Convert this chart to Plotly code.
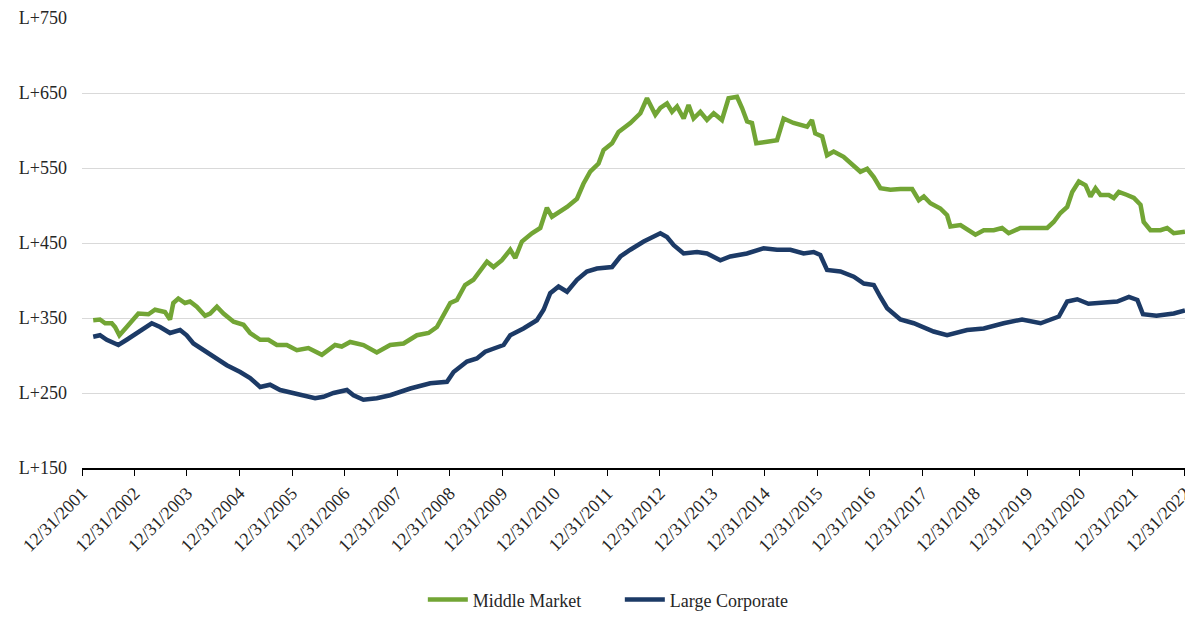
import plotly.graph_objects as go

# ---------------- data ----------------
mm_dates = [
    "2002-03-19", "2002-05-05", "2002-06-10", "2002-07-26", "2002-08-18", "2002-09-17", "2002-11-07",
    "2003-01-27", "2003-04-07", "2003-05-23", "2003-07-31", "2003-09-04", "2003-09-27", "2003-11-01",
    "2003-12-17", "2004-01-21", "2004-03-08", "2004-05-05", "2004-06-09", "2004-07-26", "2004-09-10",
    "2004-11-19", "2005-01-27", "2005-03-14", "2005-05-23", "2005-07-19", "2005-09-16", "2005-11-24",
    "2006-02-02", "2006-04-23", "2006-07-26", "2006-10-26", "2006-12-11", "2007-02-08", "2007-05-11",
    "2007-08-12", "2007-11-13", "2008-02-14", "2008-05-17", "2008-08-06", "2008-10-03", "2009-01-04",
    "2009-02-19", "2009-04-17", "2009-06-14", "2009-09-16", "2009-11-01", "2009-12-29", "2010-02-25",
    "2010-04-01", "2010-05-17", "2010-07-26", "2010-09-22", "2010-11-07", "2010-12-12", "2011-01-27",
    "2011-03-27", "2011-06-04", "2011-07-19", "2011-09-04", "2011-11-01", "2011-12-06", "2012-02-03",
    "2012-03-19", "2012-06-09", "2012-08-18", "2012-10-03", "2012-11-30", "2013-01-04", "2013-02-19",
    "2013-03-26", "2013-04-30", "2013-06-15", "2013-07-19", "2013-08-23", "2013-10-09", "2013-11-24",
    "2014-01-10", "2014-03-08", "2014-04-23", "2014-06-21", "2014-07-26", "2014-08-30", "2014-10-03",
    "2014-11-02", "2015-01-16", "2015-03-26", "2015-05-11", "2015-07-19", "2015-10-21", "2015-11-24",
    "2015-12-17", "2016-02-03", "2016-03-08", "2016-04-23", "2016-07-01", "2016-08-29", "2016-10-26",
    "2016-12-12", "2017-01-27", "2017-03-14", "2017-05-23", "2017-07-31", "2017-10-21", "2017-12-06",
    "2018-01-10", "2018-02-25", "2018-05-05", "2018-06-21", "2018-07-14", "2018-09-22", "2018-11-07",
    "2019-01-04", "2019-03-03", "2019-05-11", "2019-07-08", "2019-08-23", "2019-11-12", "2020-02-14",
    "2020-05-17", "2020-07-01", "2020-08-17", "2020-10-03", "2020-11-07", "2020-12-23", "2021-02-08",
    "2021-03-14", "2021-04-18", "2021-05-23", "2021-07-19", "2021-08-23", "2021-09-27", "2021-11-24",
    "2022-01-10", "2022-02-25", "2022-03-19", "2022-05-05", "2022-07-14", "2022-08-29", "2022-10-14",
    "2022-12-31",
]
mm_values = [
    347, 348, 343, 343, 338, 327, 338,
    356, 355, 361, 358, 348, 370, 376,
    370, 372, 365, 353, 356, 365, 356,
    345, 341, 330, 321, 321, 314, 314,
    307, 310, 301, 314, 312, 318, 314,
    304, 314, 316, 327, 330, 338, 370,
    374, 394, 401, 425, 418, 427, 441,
    430, 452, 463, 470, 497, 485, 490,
    498, 509, 529, 545, 556, 574, 583,
    598, 610, 623, 643, 621, 630, 636,
    625, 632, 616, 634, 616, 625, 614,
    623, 614, 643, 645, 630, 612, 610,
    583, 585, 587, 616, 610, 605, 614,
    596, 592, 567, 572, 565, 554, 545,
    549, 538, 523, 521, 522, 522, 507,
    512, 503, 496, 487, 472, 474, 469,
    461, 467, 467, 470, 463, 470, 470,
    470, 478, 490, 498, 518, 532, 527,
    512, 523, 514, 514, 510, 518, 514,
    510, 501, 478, 467, 467, 470, 463,
    465,
]

lc_dates = [
    "2002-03-19", "2002-05-05", "2002-06-21", "2002-09-10", "2002-11-07", "2003-01-16", "2003-04-30",
    "2003-06-27", "2003-09-04", "2003-11-13", "2003-12-29", "2004-02-14", "2004-05-17", "2004-07-26",
    "2004-10-03", "2005-01-04", "2005-03-14", "2005-05-23", "2005-07-31", "2005-10-09", "2006-01-10",
    "2006-04-12", "2006-06-09", "2006-08-06", "2006-10-15", "2007-01-16", "2007-03-03", "2007-05-11",
    "2007-08-12", "2007-11-13", "2008-04-01", "2008-08-18", "2008-12-12", "2009-01-27", "2009-04-30",
    "2009-07-08", "2009-09-04", "2009-11-13", "2010-01-10", "2010-02-25", "2010-05-28", "2010-08-29",
    "2010-10-15", "2010-11-30", "2011-01-27", "2011-03-27", "2011-06-04", "2011-08-12", "2011-10-21",
    "2012-02-03", "2012-04-01", "2012-06-09", "2012-09-10", "2013-01-04", "2013-02-19", "2013-04-07",
    "2013-06-15", "2013-09-16", "2013-11-24", "2014-02-25", "2014-05-05", "2014-08-29", "2014-12-23",
    "2015-03-26", "2015-06-27", "2015-09-27", "2015-12-06", "2016-01-21", "2016-03-08", "2016-06-09",
    "2016-09-10", "2016-11-19", "2017-01-27", "2017-03-14", "2017-04-30", "2017-07-31", "2017-11-01",
    "2018-03-19", "2018-06-21", "2018-11-07", "2019-03-03", "2019-07-19", "2019-11-24", "2020-04-01",
    "2020-08-06", "2020-10-03", "2020-12-12", "2021-02-28", "2021-06-15", "2021-09-16", "2021-12-06",
    "2022-02-03", "2022-03-14", "2022-06-16", "2022-10-14", "2022-12-31",
]
lc_values = [
    325, 327, 321, 314, 321, 330, 343,
    338, 330, 334, 327, 316, 305, 296,
    287, 278, 270, 258, 261, 254, 250,
    247, 243, 245, 250, 254, 247, 241,
    243, 247, 256, 263, 265, 278, 292,
    296, 305, 310, 314, 327, 336, 347,
    361, 383, 392, 385, 401, 412, 416,
    418, 432, 441, 452, 463, 458, 447,
    436, 438, 436, 427, 432, 436, 443,
    441, 441, 436, 438, 434, 414, 412,
    405, 396, 394, 378, 363, 348, 343,
    332, 327, 334, 336, 343, 348, 343,
    352, 372, 375, 369, 370, 372, 378,
    374, 355, 353, 356, 360,
]

series_names = ["Middle Market", "Large Corporate"]
series_colors = ["#72a535", "#1c3a66"]

tick_years = list(range(2001, 2023))
tick_vals = [f"{y}-12-31" for y in tick_years]
tick_text = [f"12/31/{y}" for y in tick_years]

y_ticks = [150, 250, 350, 450, 550, 650, 750]
y_text = [f"L+{v}" for v in y_ticks]

# ---------------- figure ----------------
FONT = "Liberation Serif, Times New Roman, serif"
TXT = "#262626"

fig = go.Figure()
for name, color, xs, ys in [
    (series_names[0], series_colors[0], mm_dates, mm_values),
    (series_names[1], series_colors[1], lc_dates, lc_values),
]:
    fig.add_trace(go.Scatter(
        x=xs, y=ys, name=name, mode="lines",
        line=dict(color=color, width=4.5),
    ))

fig.update_layout(
    width=1185, height=609,
    margin=dict(l=74, r=8, t=10, b=149, autoexpand=False),
    paper_bgcolor="white", plot_bgcolor="white",
    font=dict(family=FONT, size=18, color=TXT),
    showlegend=True,
    legend=dict(
        orientation="h", x=0.309, xanchor="left", y=-0.293, yanchor="middle",
        font=dict(family=FONT, size=18, color=TXT),
        entrywidth=142, entrywidthmode="pixels",
        itemwidth=40, tracegroupgap=0,
    ),
    xaxis=dict(
        type="date",
        range=["2001-12-31", "2022-12-31 06:00"],
        tickvals=tick_vals, ticktext=tick_text,
        tickangle=-45,
        automargin=False,
        ticklabeloverflow="allow",
        showgrid=False, zeroline=False,
        showline=True, linecolor="#000000", linewidth=1.5,
        ticks="outside", ticklen=6, tickcolor="#000000", tickwidth=1.3,
        tickfont=dict(family=FONT, size=18, color=TXT),
    ),
    yaxis=dict(
        range=[150, 750],
        tickvals=y_ticks, ticktext=y_text,
        automargin=False,
        showgrid=True, gridcolor="#d9d9d9", gridwidth=1.2,
        zeroline=False, showline=False,
        ticks="", ticklabelstandoff=14,
        tickfont=dict(family=FONT, size=18, color=TXT),
    ),
)

fig.write_html("out.html")
